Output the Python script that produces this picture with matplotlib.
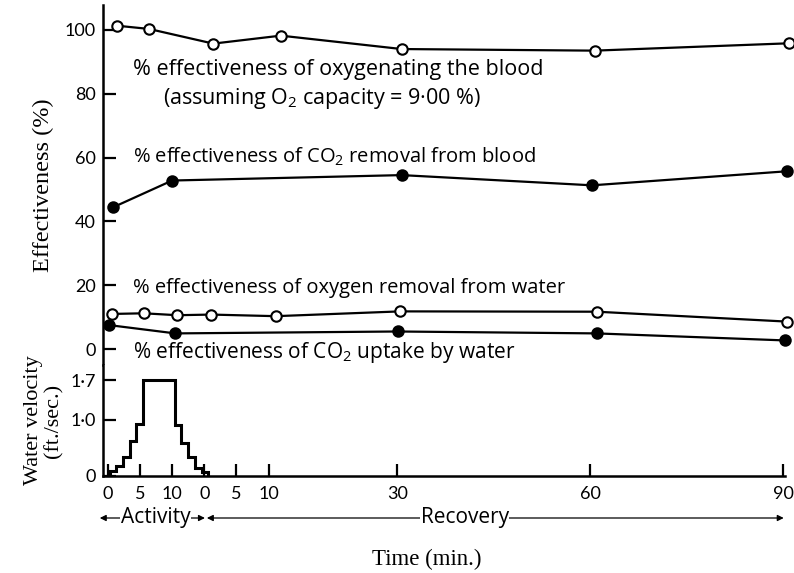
import matplotlib
matplotlib.use("Agg")
import matplotlib.pyplot as plt
from matplotlib.transforms import blended_transform_factory

plt.rcParams['font.family'] = ['Lato', 'DejaVu Sans']
plt.rcParams['mathtext.fontset'] = 'custom'
plt.rcParams['mathtext.rm'] = 'Open Sans'
plt.rcParams['mathtext.it'] = 'Open Sans:italic'

SERIF = ['Liberation Serif', 'DejaVu Serif']
SANS = ['Open Sans', 'DejaVu Sans']

# Time axis is continuous: activity 0-10 min, recovery starts at 15 on the axis
REC0 = 15
tick_pos    = [0, 5, 10, REC0, REC0 + 5, REC0 + 10, REC0 + 30, REC0 + 60, REC0 + 90]
tick_labels = ['0', '5', '10', '0', '5', '10', '30', '60', '90']

# % effectiveness series (x = position on time axis, min)
o2_blood_x  = [1.5, 6.4, 16.4, 26.9, 45.7, 75.7, 105.9]
o2_blood_y  = [101.3, 100.3, 95.7, 98.2, 94.0, 93.5, 95.8]
co2_blood_x = [0.8, 10.0, 45.7, 75.3, 105.6]
co2_blood_y = [44.4, 52.8, 54.5, 51.3, 55.7]
o2_water_x  = [0.7, 5.6, 10.8, 16.1, 26.1, 45.5, 76.0, 105.6]
o2_water_y  = [11.0, 11.2, 10.6, 10.8, 10.3, 11.8, 11.7, 8.6]
co2_water_x = [0.2, 10.5, 45.1, 76.0, 105.3]
co2_water_y = [7.5, 4.9, 5.5, 4.9, 2.7]

# water velocity steps (ft./sec.)
vel_edges  = [0.3, 1.3, 2.4, 3.4, 4.4, 5.5, 10.4, 11.4, 12.5, 13.5, 14.6, 15.6]
vel_values = [0.09, 0.17, 0.34, 0.62, 0.92, 1.70, 0.91, 0.59, 0.33, 0.15, 0.07]

W, H = 794, 573
fig = plt.figure(figsize=(W / 100, H / 100), dpi=100)

def fx(px):
    return px / W

def fy(py):
    return 1 - py / H

ax = fig.add_axes([fx(103), fy(365), fx(785) - fx(103), fy(5) - fy(365)])
axv = fig.add_axes([fx(103), fy(476), fx(785) - fx(103), fy(365) - fy(476)])

XLIM = (-0.75, 105.3)
mk = dict(ms=7.5, mew=1.5, lw=1.6, color='black', clip_on=False, zorder=3)
ax.plot(o2_blood_x, o2_blood_y, marker='o', mfc='white', **mk)
ax.plot(co2_blood_x, co2_blood_y, marker='o', mfc='black', **mk)
ax.plot(o2_water_x, o2_water_y, marker='o', mfc='white', **mk)
ax.plot(co2_water_x, co2_water_y, marker='o', mfc='black', **mk)

ax.set_xlim(*XLIM)
ax.set_ylim(-5, 107.8)
ax.set_xticks([])
ax.set_yticks([0, 20, 40, 60, 80, 100])
for s in ['top', 'right', 'bottom']:
    ax.spines[s].set_visible(False)
ax.spines['left'].set_linewidth(1.8)
ax.tick_params(axis='y', direction='in', length=9, width=1.6, pad=5, labelsize=13)
ax.set_ylabel('Effectiveness (%)', family=SERIF, fontsize=17.5, labelpad=8)

lab = dict(family=SANS, ha='left', va='center')
ax.text(3.9, 87.5, '% effectiveness of oxygenating the blood', fontsize=15.5, **lab)
ax.text(8.6, 78.6, '(assuming O$_2$ capacity = 9·00 %)', fontsize=15.5, **lab)
ax.text(3.9, 60.2, '% effectiveness of CO$_2$ removal from blood', fontsize=14.5, **lab)
ax.text(3.9, 19.1, '% effectiveness of oxygen removal from water', fontsize=14.5, **lab)
ax.text(3.9, -1.2, '% effectiveness of CO$_2$ uptake by water', fontsize=15, **lab)

# water velocity panel
axv.stairs(vel_values, vel_edges, baseline=0, color='black', lw=2.2)
axv.set_xlim(*XLIM)
axv.set_ylim(0, 1.975)
axv.set_yticks([0, 1.0, 1.7])
axv.set_yticklabels(['0', '1·0', '1·7'])
axv.set_xticks(tick_pos)
axv.set_xticklabels(tick_labels)
for s in ['top', 'right']:
    axv.spines[s].set_visible(False)
for s in ['left', 'bottom']:
    axv.spines[s].set_linewidth(1.8)
axv.tick_params(axis='y', direction='in', length=9, width=1.6, pad=5, labelsize=13)
axv.tick_params(axis='x', direction='in', length=9, width=1.6, pad=7, labelsize=13)
axv.set_ylabel('Water velocity\n(ft./sec.)', family=SERIF, fontsize=16,
               labelpad=5, linespacing=1.05)

# activity / recovery arrows
trans = blended_transform_factory(axv.transData, fig.transFigure)
ya = fy(518)
arrow = dict(arrowstyle='<|-|>', lw=0.9, color='black', shrinkA=0, shrinkB=0,
             mutation_scale=9)
axv.annotate('', xy=(15.1, ya), xytext=(-1.25, ya), xycoords=trans,
             textcoords=trans, arrowprops=arrow, annotation_clip=False)
axv.annotate('', xy=(105.1, ya), xytext=(15.4, ya), xycoords=trans,
             textcoords=trans, arrowprops=arrow, annotation_clip=False)
box = dict(facecolor='white', edgecolor='none', pad=0.5)
axv.text(7.4, ya, 'Activity', transform=trans, ha='center', va='center',
         family=SANS, fontsize=15, bbox=box)
axv.text(55.5, ya, 'Recovery', transform=trans, ha='center', va='center',
         family=SANS, fontsize=15, bbox=box)

fig.text(fx(427), fy(559), 'Time (min.)', family=SERIF, fontsize=16.5,
         ha='center', va='center')

fig.savefig('out.png', dpi=100)
